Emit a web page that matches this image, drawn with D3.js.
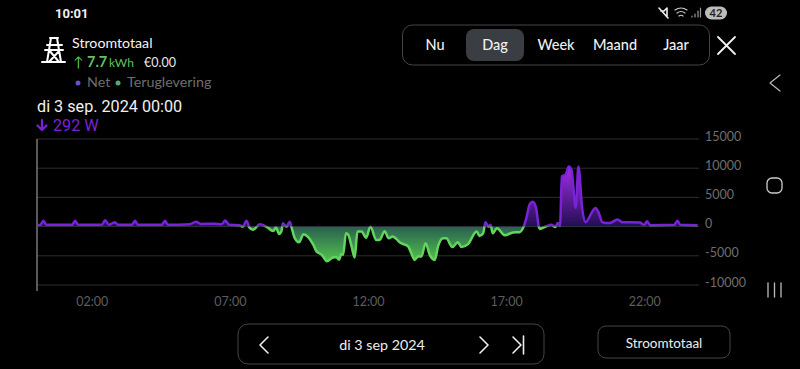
<!DOCTYPE html>
<html>
<head>
<meta charset="utf-8">
<script src="https://cdn.jsdelivr.net/npm/d3@7"></script>
<style>
  html, body { margin: 0; padding: 0; background: #000; }
  svg { display: block; }
</style>
</head>
<body>
<div id="chart"></div>
<script>
// minutes since midnight
const minutes = [0,7,14,20,76,83,89,141,148,156,169,176,206,213,219,271,278,284,332,345,356,386,401,409,417,440,447,455,461,469,484,499,513,519,526,531,534,542,549,553,560,569,579,589,600,607,618,630,640,650,656,661,665,671,676,683,690,696,705,715,724,737,744,755,764,772,781,788,806,813,820,828,835,844,853,864,871,882,889,902,914,922,936,955,961,969,974,981,985,990,999,1016,1034,1048,1057,1063,1070,1077,1084,1090,1092,1106,1117,1126,1131,1136,1140,1148,1155,1161,1170,1176,1184,1191,1213,1220,1228,1243,1261,1272,1309,1319,1325,1332,1384,1391,1397,1435];
// power in W, positive = net, negative = teruglevering
const watts = [292,300,1000,300,300,1000,300,300,1100,300,750,300,300,1000,300,300,1000,300,400,850,450,500,400,1050,300,250,0,1000,-100,-550,400,-50,-750,-170,-1250,-750,570,0,850,-170,-2000,-2700,-1300,-1800,-3100,-4250,-4800,-5950,-5400,-5200,-5650,-4700,-4800,-1130,-1400,-3300,-5300,-850,-850,-1900,0,-2300,-2300,-800,-2000,-1700,-2150,-2700,-3400,-4550,-5700,-5100,-5100,-2850,-4850,-5700,-3400,-2000,-2000,-3500,-2700,-3500,-3000,-850,-1600,-1150,740,0,300,-1150,-280,-1500,-1000,-950,0,1500,3800,4250,3200,-50,-400,60,300,-50,600,150,8600,8900,10300,9700,3200,10300,3200,750,3200,2350,750,600,1200,750,700,300,900,250,300,1000,300,250];
const yTicks = [15000,10000,5000,0,-5000,-10000];
const xTicks = [120,420,720,1020,1320];
const xLabels = ["02:00","07:00","12:00","17:00","22:00"];
const periods = ["Nu","Dag","Week","Maand","Jaar"];
const periodX = [435,495,556,615,676];

const width = 800, height = 369;
const purple = "#7a22d8", green = "#62d65c", dimText = "#6e6e6e", border = "#444";

const svg = d3.select("#chart").append("svg")
    .attr("width", width)
    .attr("height", height)
    .attr("viewBox", [0, 0, width, height])
    .attr("font-family", "Lato, sans-serif");

const x = d3.scaleLinear().domain([0, 1440]).range([37, 700]);
const y = d3.scaleLinear().domain([-10000, 15000]).range([285, 139]);

const defs = svg.append("defs");
const purpleGrad = defs.append("linearGradient").attr("id", "gradNet")
    .attr("gradientUnits", "userSpaceOnUse")
    .attr("x1", 0).attr("x2", 0).attr("y1", y(10300)).attr("y2", y(0));
purpleGrad.append("stop").attr("offset", 0).attr("stop-color", "#a02ee6");
purpleGrad.append("stop").attr("offset", 1).attr("stop-color", "#220e52");
const greenGrad = defs.append("linearGradient").attr("id", "gradBack")
    .attr("gradientUnits", "userSpaceOnUse")
    .attr("x1", 0).attr("x2", 0).attr("y1", y(0)).attr("y2", y(-5950));
greenGrad.append("stop").attr("offset", 0).attr("stop-color", "#2a5f50");
greenGrad.append("stop").attr("offset", 1).attr("stop-color", "#52c24e");

defs.append("clipPath").attr("id", "above").append("rect")
    .attr("x", 0).attr("y", 0).attr("width", width).attr("height", y(0));
defs.append("clipPath").attr("id", "below").append("rect")
    .attr("x", 0).attr("y", y(0)).attr("width", width).attr("height", height - y(0));

// grid
svg.append("g").selectAll("line").data(yTicks).join("line")
    .attr("x1", x(0)).attr("x2", 699)
    .attr("y1", d => y(d)).attr("y2", d => y(d))
    .attr("stroke", "#2e2e2e").attr("stroke-width", 1);
svg.append("line")
    .attr("x1", x(0)).attr("x2", x(0)).attr("y1", 139).attr("y2", 291)
    .attr("stroke", "#8a8a8a").attr("stroke-width", 1.3);

svg.append("g").selectAll("text").data(yTicks).join("text")
    .attr("x", 705).attr("y", d => y(d) + 1.5)
    .attr("font-size", 12.5).attr("fill", dimText)
    .text(d => d);
svg.append("g").selectAll("text").data(xTicks).join("text")
    .attr("x", d => x(d)).attr("y", 306)
    .attr("text-anchor", "middle")
    .attr("font-size", 12.5).attr("fill", "#5e5e5e")
    .text((d, i) => xLabels[i]);

// curve
const data = minutes.map((m, i) => ({m, w: watts[i]}));
const area = d3.area().x(d => x(d.m)).y0(y(0)).y1(d => y(d.w)).curve(d3.curveMonotoneX);
const line = d3.line().x(d => x(d.m)).y(d => y(d.w)).curve(d3.curveMonotoneX);

svg.append("path").datum(data).attr("d", area)
    .attr("fill", "url(#gradNet)").attr("clip-path", "url(#above)");
svg.append("path").datum(data).attr("d", area)
    .attr("fill", "url(#gradBack)").attr("clip-path", "url(#below)");
svg.append("path").datum(data).attr("d", line)
    .attr("fill", "none").attr("stroke", purple).attr("stroke-width", 2.5)
    .attr("clip-path", "url(#above)");
svg.append("path").datum(data).attr("d", line)
    .attr("fill", "none").attr("stroke", green).attr("stroke-width", 2.5)
    .attr("clip-path", "url(#below)");

// small helpers for the app chrome
const label = (tx, ty, str, size, fill, extra) => {
  const t = svg.append("text").attr("x", tx).attr("y", ty)
      .attr("font-size", size).attr("fill", fill).text(str);
  if (extra) extra(t);
  return t;
};
const stroke = (d, col, w) => svg.append("path").attr("d", d)
    .attr("fill", "none").attr("stroke", col || "#eee").attr("stroke-width", w || 1.5)
    .attr("stroke-linecap", "round").attr("stroke-linejoin", "round");
const box = (bx, by, bw, bh, r) => svg.append("rect")
    .attr("x", bx).attr("y", by).attr("width", bw).attr("height", bh).attr("rx", r)
    .attr("fill", "none").attr("stroke", border).attr("stroke-width", 1);

// status bar
label(55, 18, "10:01", 13, "#f0f0f0", t => t.attr("font-weight", 700).attr("font-family", "Roboto"));
stroke("M659 8l9 10M661 11h3l3-3v8", "#eee", 1.6);
stroke("M675 10q6-4 12 0M677 13q4-3 8 0M679 16q2-1.500 4 0", "#ccc", 1.2);
stroke("M692 17v-1M695 17v-3M698 17v-6M700.500 17v-9", "#999", 1.2);
svg.append("rect").attr("x", 705).attr("y", 6.500).attr("width", 22).attr("height", 13).attr("rx", 6.500).attr("fill", "#bdbdbd");
label(716, 17, "42", 11, "#222", t => t.attr("text-anchor", "middle").attr("font-weight", 700));

// header
stroke("M42 62h23M47 45h15M45 50h18M50 38h8M51 38l-4 24M57 38l4 24M49 50l10 12M60 50l-11 12", "#fff", 2);
label(72, 48, "Stroomtotaal", 14.2, "#f4f4f4");
label(73, 67, "↑", 14, "#5fc45f");
label(87, 67, "7.7", 14.5, "#5fc45f", t => t.attr("font-weight", 700));
label(109, 67, "kWh", 12, "#5fc45f");
label(144, 67, "€0.00", 12.5, "#e8e8e8");
svg.append("circle").attr("cx", 78).attr("cy", 83).attr("r", 2.5).attr("fill", "#6a4fd0");
label(87, 87, "Net", 14.3, dimText);
svg.append("circle").attr("cx", 118).attr("cy", 83).attr("r", 2.5).attr("fill", "#4fae6c");
label(127, 87, "Teruglevering", 14.3, dimText);
label(37, 112, "di 3 sep. 2024 00:00", 16.2, "#f0f0f0", t => t.attr("font-family", "Roboto"));
stroke("M42 120v10M37.500 125.500l4.500 4.500l4.500-4.500", purple, 2.2);
label(53, 131, "292 W", 16.2, purple, t => t.attr("font-family", "Roboto"));

// period selector
box(402.5, 25, 307, 40, 10);
svg.append("rect").attr("x", 466).attr("y", 29).attr("width", 58).attr("height", 32).attr("rx", 8).attr("fill", "#3a3d42");
svg.append("g").selectAll("text").data(periods).join("text")
    .attr("x", (d, i) => periodX[i]).attr("y", 50)
    .attr("text-anchor", "middle").attr("font-size", 14.5).attr("font-weight", 500)
    .attr("fill", "#f0f0f0").text(d => d);
stroke("M718 37l17 17M735 37l-17 17", "#f2f2f2", 1.8);

// android nav
stroke("M780 75l-10 8l10 8", "#bbb", 1.2);
svg.append("rect").attr("x", 767).attr("y", 178).attr("width", 15).attr("height", 15).attr("rx", 5)
    .attr("fill", "none").attr("stroke", "#ccc").attr("stroke-width", 1.3);
stroke("M768 283v14M774.500 283v14M781 283v14", "#bbb", 1.3);

// date selector
box(238, 324, 306, 40, 10);
stroke("M268 337l-8 8l8 8", "#eee", 1.6);
label(382, 350, "di 3 sep 2024", 14.3, "#eee", t => t.attr("text-anchor", "middle"));
stroke("M480 337l8 8l-8 8", "#eee", 1.6);
stroke("M513 337l8 8l-8 8M523.500 336v18", "#eee", 1.6);
box(598, 326, 132, 32, 8);
label(664, 348, "Stroomtotaal", 13.5, "#eee", t => t.attr("text-anchor", "middle"));
</script>
</body>
</html>
